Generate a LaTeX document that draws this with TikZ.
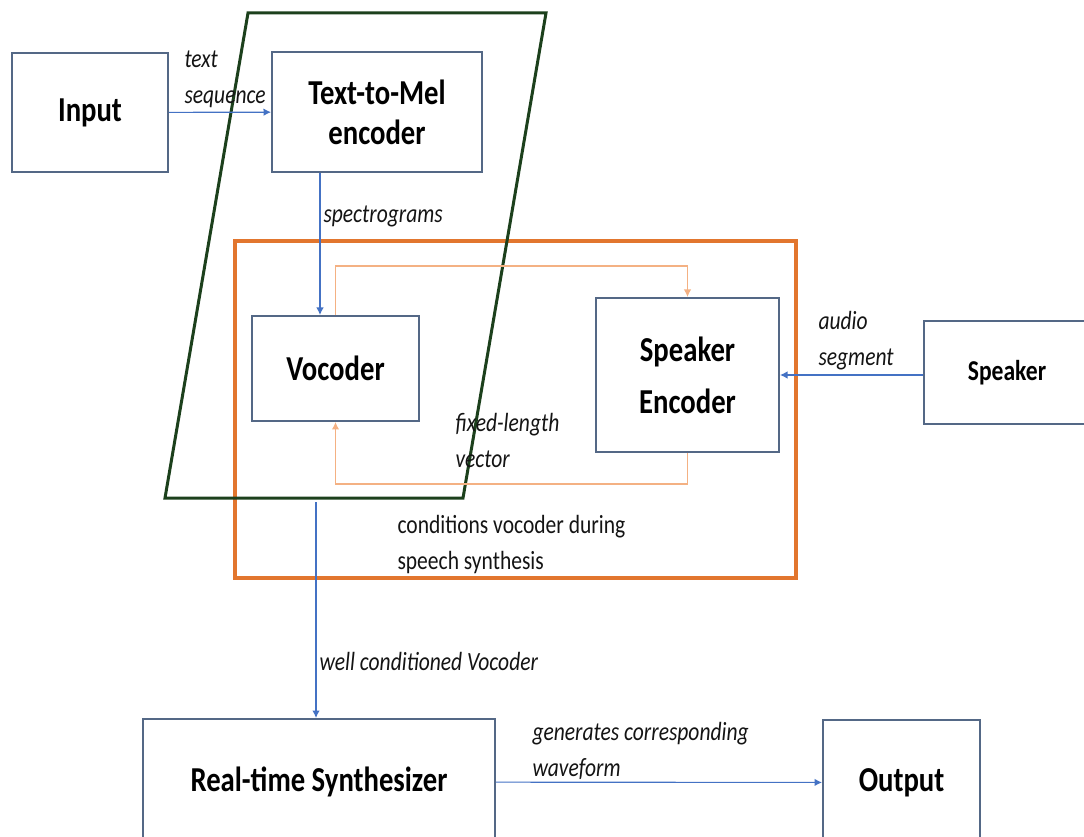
\documentclass[tikz,border=0pt]{standalone}
\usepackage{fontspec}
\setmainfont{Carlito}[FakeStretch=0.82]
\usetikzlibrary{arrows.meta,positioning}

\definecolor{boxline}{RGB}{84,104,134}
\definecolor{flowblue}{RGB}{68,114,196}
\definecolor{looporange}{RGB}{244,177,131}
\definecolor{frameorange}{RGB}{226,118,46}
\definecolor{framegreen}{RGB}{28,64,28}

\tikzset{
  blk/.style={draw=boxline, line width=0.8pt, align=center, inner sep=0pt,
    font=\bfseries\fontsize{14}{16}\selectfont},
  flow/.style={draw=flowblue, line width=0.45pt, -{Latex[length=3pt,width=3pt]}},
  condline/.style={draw=looporange, line width=0.5pt, -{Latex[length=3pt,width=3pt]}},
  lbl/.style={font=\itshape\fontsize{10.5}{14.4}\selectfont, text=black!92,
    align=left, anchor=north west, inner sep=0pt}
}

\begin{document}
\begin{tikzpicture}[x=0.4pt, y=-0.4pt]
    \useasboundingbox (0,0) rectangle (1084,837);

    % Blocks
    \node[blk, minimum width=62.4pt, minimum height=47.6pt] (input) at (90,112.5) {Input};
    \node[blk, minimum width=84pt, minimum height=48pt] (tomel) at (377,112) {Text-to-Mel\\encoder};
    \node[blk, minimum width=66.8pt, minimum height=42pt] (vocoder) at (335.5,368.5) {Vocoder};
    \node[blk, minimum width=73.2pt, minimum height=61.6pt,
          font=\bfseries\fontsize{14}{20.8}\selectfont] (spkenc) at (687.5,375) {Speaker\\Encoder};
    \node[blk, minimum width=66.4pt, minimum height=41.2pt,
          font=\bfseries\fontsize{11.5}{14}\selectfont] (speaker) at (1007,372.5) {Speaker};
    \node[blk, minimum width=140.8pt, minimum height=50.4pt] (synth) at (319,782) {Real-time Synthesizer};
    \node[blk, minimum width=62.8pt, minimum height=50pt] (output) at (901.5,782.5) {Output};

    % Orange frame and green parallelogram
    \draw[frameorange, line width=1.4pt] (235,241) rectangle (796,578);
    \draw[framegreen, line width=1.2pt] (248,13) -- (546,13) -- (463,498) -- (165,498) -- cycle;

    % Main flow
    \coordinate (specx) at (320,0);
    \coordinate (vocout) at (316,502);
    \draw[flow] (input) -- (tomel);
    \draw[flow] (tomel.south -| specx) -- (vocoder.north -| specx);
    \draw[flow] (speaker.west |- spkenc.east) -- (spkenc.east);
    \draw[flow] (vocout) -- (synth.north -| vocout);
    \draw[flow] (synth) -- (output);

    % Conditioning loop
    \draw[condline] (vocoder.north) -- ++(0,-49) -| (spkenc.north);
    \draw[condline] (spkenc.south) -- ++(0,31) -| (vocoder.south);

    % Labels
    \node[lbl] (textseq) at (184,50) {text\\sequence};
    \node[lbl] (spec) at (323,205) {spectrograms};
    \node[lbl] (audioseg) at (818,311) {audio\\segment};
    \node[lbl] (fixvec) at (455,413) {fixed-length\\vector};
    \node[lbl, font=\fontsize{10.5}{14.4}\selectfont] (cond) at (397,515) {conditions vocoder during\\speech synthesis};
    \node[lbl] (wellcond) at (319,652) {well conditioned Vocoder};
    \node[lbl] (genwave) at (532,722) {generates corresponding\\waveform};
\end{tikzpicture}
\end{document}
